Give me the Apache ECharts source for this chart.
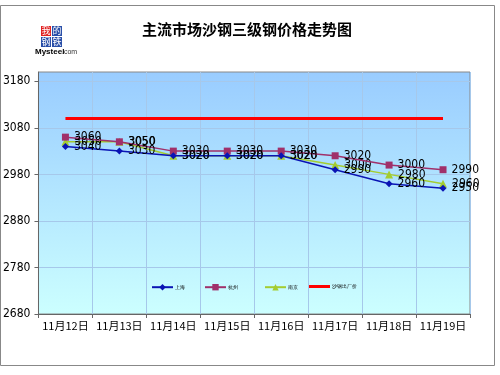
<!DOCTYPE html>
<html><head><meta charset="utf-8">
<script src="https://cdn.jsdelivr.net/npm/echarts@6/dist/echarts.min.js"></script>
<style>html,body{margin:0;padding:0;background:#fff}#c{width:500px;height:375px}</style>
</head><body><div id="c"></div>
<script>
var categories = ['11月12日','11月13日','11月14日','11月15日','11月16日','11月17日','11月18日','11月19日'];
var seriesNames = ['上海','杭州','南京','沙钢出厂价'];
var blueValues   = [3040, 3030, 3020, 3020, 3020, 2990, 2960, 2950];
var purpleValues = [3060, 3050, 3030, 3030, 3030, 3020, 3000, 2990];
var greenValues  = [3050, 3050, 3020, 3020, 3020, 3000, 2980, 2960];
var redValues    = [3100, 3100, 3100, 3100, 3100, 3100, 3100, 3100];
var yTicks = [2680, 2780, 2880, 2980, 3080, 3180];

var chart = echarts.init(document.getElementById('c'), null, {renderer:'canvas'});
var lblFont = '"Liberation Sans Narrow","DejaVu Sans Condensed",sans-serif';
function lbl(){ return {show:true, position:'right', distance:5, color:'#000', fontSize:12, fontFamily:lblFont}; }
function leg(item, left, h){
  return {data:[item], left:left, top:279, itemWidth:21, itemHeight:h||8, itemGap:0,
    textStyle:{fontSize:5, color:'#000', padding:[0,0,0,-3]}, selectedMode:false};
}
chart.setOption({
  animation:false,
  backgroundColor:'#fff',
  title:{text:'主流市场沙钢三级钢价格走势图', left:242, textAlign:'center', top:17,
    textStyle:{fontSize:15, fontWeight:'bold', color:'#000', fontFamily:'"Noto Sans CJK SC",sans-serif'}},
  graphic:[
    {type:'rect', z:-10, shape:{x:0.5,y:5.5,width:494,height:360}, style:{fill:'#fff', stroke:'#888', lineWidth:1}},
    {type:'rect', shape:{x:41,y:26,width:10,height:10}, style:{fill:'#e02020'}},
    {type:'rect', shape:{x:52,y:26,width:10,height:10}, style:{fill:'#2a4fa8'}},
    {type:'rect', shape:{x:41,y:37,width:10,height:10}, style:{fill:'#2a4fa8'}},
    {type:'rect', shape:{x:52,y:37,width:10,height:10}, style:{fill:'#2a4fa8'}},
    {type:'text', style:{x:46,y:31,text:'我',fill:'#fff',fontSize:9,align:'center',verticalAlign:'middle',fontFamily:'"Noto Sans CJK SC"'}},
    {type:'text', style:{x:57,y:31,text:'的',fill:'#fff',fontSize:9,align:'center',verticalAlign:'middle',fontFamily:'"Noto Sans CJK SC"'}},
    {type:'text', style:{x:46,y:42,text:'钢',fill:'#fff',fontSize:9,align:'center',verticalAlign:'middle',fontFamily:'"Noto Sans CJK SC"'}},
    {type:'text', style:{x:57,y:42,text:'铁',fill:'#fff',fontSize:9,align:'center',verticalAlign:'middle',fontFamily:'"Noto Sans CJK SC"'}},
    {type:'text', style:{x:35,y:52,text:'Mysteel',fill:'#000',fontSize:8,fontWeight:'bold',verticalAlign:'middle',fontFamily:'"Liberation Sans Narrow",sans-serif'}},
    {type:'text', style:{x:62,y:52.5,text:'.com',fill:'#333',fontSize:7,verticalAlign:'middle',fontFamily:'"Liberation Sans",sans-serif'}}
  ],
  legend:[leg(seriesNames[0],146), leg(seriesNames[1],199), leg(seriesNames[2],259),
    leg({name:seriesNames[3], icon:'rect'},304,3)],
  grid:{left:33, right:30, top:72, bottom:61, show:true, borderColor:'#888', borderWidth:1,
    backgroundColor:new echarts.graphic.LinearGradient(0,0,0,1,[{offset:0,color:'#99ccff'},{offset:1,color:'#ccffff'}])},
  xAxis:{type:'category', data:categories, boundaryGap:true,
    axisLine:{lineStyle:{color:'#666'}},
    axisTick:{show:true, length:4, interval:0, lineStyle:{color:'#666'}},
    axisLabel:{color:'#000', fontSize:11, margin:6, interval:0, fontFamily:'"Noto Sans CJK SC",sans-serif'},
    splitLine:{show:true, interval:0, lineStyle:{color:'#a6c8ea', width:1}}},
  yAxis:{type:'value', min:2680, max:3200, interval:100,
    axisLine:{show:true, lineStyle:{color:'#666'}},
    axisTick:{show:true, length:4, customValues:yTicks, lineStyle:{color:'#666'}},
    axisLabel:{color:'#000', fontSize:12, margin:8, customValues:yTicks, fontFamily:lblFont,
      formatter:function(v){return String(v);}},
    splitLine:{show:true, lineStyle:{color:'#a6c8ea', width:1}}},
  series:[
    {name:seriesNames[0], type:'line', data:blueValues, symbol:'diamond', symbolSize:7,
      itemStyle:{color:'#0a14b4'}, lineStyle:{color:'#0a14b4', width:1.5}, label:lbl(), z:5},
    {name:seriesNames[1], type:'line', data:purpleValues, symbol:'rect', symbolSize:7,
      itemStyle:{color:'#a0306a'}, lineStyle:{color:'#a0306a', width:1.5}, label:lbl(), z:4},
    {name:seriesNames[2], type:'line', data:greenValues, symbol:'triangle', symbolSize:8,
      itemStyle:{color:'#a4cc30'}, lineStyle:{color:'#a4cc30', width:1.5}, label:lbl(), z:3},
    {name:seriesNames[3], type:'line', data:redValues, symbol:'none',
      itemStyle:{color:'#ff0000'}, lineStyle:{color:'#ff0000', width:3}, z:2}
  ]
});
</script></body></html>
